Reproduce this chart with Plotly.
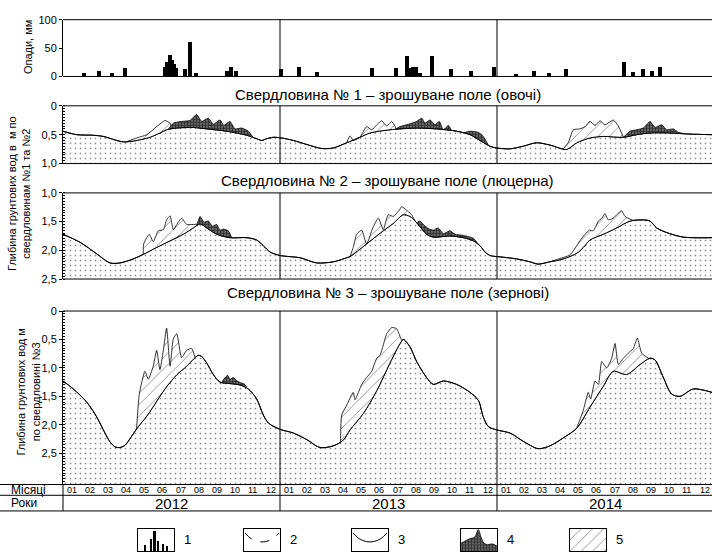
import plotly.graph_objects as go

W, H = 712, 560
FONT = "Arial, Liberation Sans, sans-serif"
XMAX = 35.89  # months shown (Jan 2012 .. end of Dec 2014)

# ---------------- precipitation, mm ----------------
rain_month = [1.18, 2.01, 2.69, 3.45, 5.64, 5.77, 5.92, 6.04, 6.14, 6.25, 6.75, 7.02, 7.34, 9.05, 9.29, 9.55,
              12.06, 13.05, 14.03, 17.09, 18.43, 19.02, 19.19, 19.37, 19.50, 19.74, 20.42, 21.44, 22.56, 23.83,
              25.03, 26.05, 26.89, 27.82, 31.02, 31.54, 32.09, 32.56, 33.01]
rain_mm = [6, 11, 7, 15, 18, 26, 38, 30, 22, 15, 13, 62, 7, 10, 17, 11,
           14, 17, 9, 15, 15, 37, 15, 17, 17, 7, 37, 14, 10, 18,
           5, 10, 7, 14, 26, 8, 14, 10, 18]

# ---------------- well 1 (vegetables), depth m ----------------
w1_x = [0.0, 0.76, 1.68, 2.23, 2.97, 3.34, 3.89, 4.81, 5.36, 5.73, 6.29, 7.2, 7.95, 9.05, 10.16, 10.71,
        10.99, 11.26, 11.63, 12.09, 12.74, 13.48, 14.31, 14.95, 15.69, 16.42, 16.98, 18.08, 19.56, 20.66,
        21.77, 22.51, 23.06, 23.61, 23.98, 24.72, 25.45, 26.19, 26.93, 27.85, 28.41, 29.14, 29.88, 30.99,
        31.73, 32.46, 33.57, 34.67, 35.89]
w1_y = [0.44, 0.50, 0.51, 0.53, 0.60, 0.625, 0.61, 0.545, 0.47, 0.415, 0.385, 0.375, 0.40, 0.44, 0.51, 0.57,
        0.60, 0.57, 0.545, 0.557, 0.60, 0.67, 0.74, 0.73, 0.64, 0.545, 0.47, 0.415, 0.385, 0.40,
        0.44, 0.50, 0.60, 0.70, 0.73, 0.745, 0.70, 0.64, 0.68, 0.755, 0.64, 0.557, 0.53, 0.545,
        0.50, 0.47, 0.47, 0.49, 0.50]
w1_hatch_a_x = [3.52, 4.07, 4.63, 5.18, 5.64, 5.92, 6.01]
w1_hatch_a_y = [0.62, 0.557, 0.50, 0.36, 0.255, 0.30, 0.40]
w1_hatch_b_x = [15.69, 15.87, 16.05, 16.42, 16.79, 17.07, 17.35, 17.62, 17.9, 18.18, 18.45]
w1_hatch_b_y = [0.64, 0.52, 0.60, 0.545, 0.36, 0.415, 0.33, 0.26, 0.35, 0.27, 0.41]
w1_hatch_c_x = [27.67, 27.94, 28.22, 28.59, 28.87, 29.14, 29.42, 29.70, 29.97, 30.43, 30.71, 30.99]
w1_hatch_c_y = [0.74, 0.64, 0.415, 0.40, 0.36, 0.27, 0.34, 0.26, 0.33, 0.245, 0.35, 0.545]
w1_dark_a_x = [5.82, 6.10, 6.56, 7.02, 7.39, 7.67, 8.04, 8.31, 8.68, 8.90, 9.23, 9.51, 9.88, 10.25, 10.52]
w1_dark_a_y = [0.41, 0.30, 0.27, 0.255, 0.15, 0.27, 0.215, 0.32, 0.245, 0.34, 0.27, 0.40, 0.385, 0.44, 0.55]
w1_dark_b_x = [18.36, 18.64, 19.1, 19.56, 19.84, 20.02, 20.3, 20.57, 20.81, 21.03, 21.31, 21.49]
w1_dark_b_y = [0.41, 0.36, 0.32, 0.27, 0.215, 0.30, 0.245, 0.33, 0.27, 0.415, 0.34, 0.43]
w1_dark_c_x = [22.14, 22.51, 22.97, 23.24, 23.52]
w1_dark_c_y = [0.47, 0.44, 0.46, 0.53, 0.68]
w1_dark_d_x = [30.99, 31.36, 31.73, 32.09, 32.46, 32.74, 33.11, 33.38, 33.75, 34.03, 34.30]
w1_dark_d_y = [0.545, 0.44, 0.415, 0.385, 0.27, 0.375, 0.33, 0.415, 0.40, 0.46, 0.48]

# ---------------- well 2 (alfalfa), depth m ----------------
w2_x = [0.0, 0.94, 1.86, 2.6, 3.15, 3.89, 4.44, 5.18, 5.92, 6.65, 7.2, 7.58, 7.95, 8.5, 9.23, 10.16,
        10.71, 11.08, 11.45, 12.0, 13.11, 14.03, 14.95, 15.69, 15.87, 16.42, 16.98, 17.71, 18.27, 18.82,
        19.19, 19.56, 20.11, 20.48, 21.4, 22.14, 22.69, 23.06, 23.34, 23.61, 24.35, 25.09, 25.82, 26.28,
        26.93, 27.67, 28.41, 28.77, 29.14, 29.88, 30.62, 31.36, 32.09, 32.46, 32.83, 33.38, 34.3, 35.89]
w2_y = [1.72, 1.86, 2.06, 2.22, 2.22, 2.15, 2.07, 1.95, 1.835, 1.72, 1.61, 1.54, 1.61, 1.72, 1.78, 1.78,
        1.82, 1.92, 2.03, 2.09, 2.13, 2.22, 2.20, 2.13, 2.11, 1.98, 1.84, 1.66, 1.53, 1.38,
        1.41, 1.52, 1.72, 1.77, 1.75, 1.78, 1.835, 1.92, 2.03, 2.09, 2.12, 2.15, 2.20, 2.24,
        2.20, 2.15, 2.05, 1.95, 1.82, 1.72, 1.61, 1.49, 1.47, 1.49, 1.61, 1.69, 1.77, 1.78]
w2_hatch_a_x = [4.44, 4.46, 4.77, 4.99, 5.27, 5.55, 5.73, 5.92, 6.1, 6.29, 6.56, 6.84, 7.2, 7.58]
w2_hatch_a_y = [2.07, 1.89, 1.72, 1.85, 1.66, 1.64, 1.47, 1.40, 1.64, 1.55, 1.44, 1.55, 1.55, 1.54]
w2_hatch_b_x = [15.87, 16.05, 16.24, 16.52, 16.79, 17.13, 17.44, 17.71, 17.99, 18.27, 18.6, 18.73, 19.0, 19.28, 19.47]
w2_hatch_b_y = [2.11, 1.95, 1.72, 1.65, 1.89, 1.61, 1.44, 1.64, 1.38, 1.41, 1.30, 1.24, 1.30, 1.38, 1.49]
w2_hatch_c_x = [26.93, 27.3, 28.04, 28.59, 28.87, 29.11, 29.33, 29.61, 29.8, 29.97, 30.15, 30.43, 30.62, 30.89, 31.08, 31.54]
w2_hatch_c_y = [2.20, 2.16, 2.08, 1.835, 1.72, 1.65, 1.66, 1.49, 1.44, 1.36, 1.47, 1.44, 1.38, 1.31, 1.41, 1.48]
w2_dark_a_x = [7.39, 7.58, 7.8, 8.04, 8.26, 8.5, 8.68, 8.86, 9.14, 9.33]
w2_dark_a_y = [1.58, 1.41, 1.51, 1.49, 1.58, 1.55, 1.65, 1.63, 1.66, 1.78]
w2_dark_b_x = [19.56, 19.74, 19.93, 20.2, 20.48, 20.75, 21.03, 21.4, 21.68, 22.14, 22.69, 22.97]
w2_dark_b_y = [1.52, 1.49, 1.55, 1.62, 1.65, 1.61, 1.71, 1.66, 1.72, 1.74, 1.79, 1.90]

# ---------------- well 3 (grain), depth m ----------------
w3_x = [0.0, 0.57, 1.31, 1.86, 2.32, 2.6, 2.88, 3.15, 3.43, 3.8, 4.17, 4.63, 4.99, 5.36, 5.73, 6.29,
        6.84, 7.2, 7.48, 7.67, 7.95, 8.31, 8.68, 9.23, 9.79, 10.25, 10.71, 11.08, 11.36, 12.0, 12.74,
        13.48, 14.21, 14.95, 15.5, 15.87, 16.61, 17.35, 18.08, 18.64, 18.82, 19.19, 19.56, 20.11, 20.48,
        21.03, 21.77, 22.51, 22.97, 23.24, 23.52, 23.98, 24.72, 25.45, 26.28, 26.93, 27.67, 28.41, 29.14,
        29.88, 30.43, 31.17, 31.91, 32.46, 32.74, 33.2, 33.66, 34.12, 34.86, 35.89]
w3_y = [1.23, 1.37, 1.60, 1.86, 2.145, 2.30, 2.39, 2.40, 2.36, 2.20, 2.03, 1.85, 1.68, 1.50, 1.33, 1.12,
        0.97, 0.85, 0.78, 0.80, 0.915, 1.115, 1.25, 1.275, 1.30, 1.37, 1.545, 1.83, 1.97, 2.08, 2.145,
        2.26, 2.40, 2.37, 2.27, 2.09, 1.80, 1.40, 0.915, 0.57, 0.50, 0.63, 0.89, 1.17, 1.29,
        1.23, 1.29, 1.43, 1.57, 1.86, 2.03, 2.09, 2.145, 2.29, 2.42, 2.37, 2.23, 2.06, 1.69,
        1.32, 1.06, 1.115, 0.94, 0.83, 0.86, 1.17, 1.46, 1.50, 1.37, 1.43]
w3_hatch_a_x = [4.07, 4.22, 4.53, 4.72, 4.99, 5.18, 5.36, 5.55, 5.73, 5.92, 6.1, 6.29, 6.56, 6.84, 7.12, 7.3]
w3_hatch_a_y = [2.07, 1.46, 1.06, 1.20, 0.97, 0.69, 1.03, 0.69, 0.30, 0.97, 0.49, 0.40, 0.82, 0.69, 0.66, 0.82]
w3_hatch_b_x = [15.35, 15.41, 15.7, 16.05, 16.15, 16.52, 16.79, 17.07, 17.35, 17.53, 17.71, 17.9, 18.18, 18.45, 18.73, 18.82]
w3_hatch_b_y = [2.30, 1.83, 1.65, 1.43, 1.56, 1.29, 1.17, 1.06, 0.83, 0.78, 0.60, 0.40, 0.29, 0.31, 0.51, 0.50]
w3_hatch_c_x = [28.41, 28.77, 29.05, 29.18, 29.42, 29.61, 29.79, 30.07, 30.34, 30.53, 30.71, 30.99,
                31.26, 31.54, 31.76, 32.0, 32.37, 32.55]
w3_hatch_c_y = [2.06, 1.745, 1.43, 1.545, 1.23, 1.29, 0.89, 1.0, 0.83, 0.57, 0.94, 0.83,
                0.74, 0.66, 0.475, 0.74, 0.83, 0.84]
w3_dark_a_x = [8.77, 8.96, 9.11, 9.23, 9.42, 9.64, 9.83, 10.01, 10.16]
w3_dark_a_y = [1.26, 1.17, 1.13, 1.20, 1.17, 1.23, 1.26, 1.28, 1.33]

# ---------------- axis text ----------------
month_labels = ["01", "02", "03", "04", "05", "06", "07", "08", "09", "10", "11", "12"]
years = ["2012", "2013", "2014"]
titles = ["Свердловина № 1 – зрошуване поле (овочі)",
          "Свердловина № 2 – зрошуване поле (люцерна)",
          "Свердловина № 3 – зрошуване поле (зернові)"]
legend_labels = ["1", "2", "3", "4", "5"]

# legend icon data (unit box coordinates)
icon_bar_x = [0.2, 0.36, 0.46, 0.55, 0.7, 0.8]
icon_bar_h = [0.3, 0.55, 0.9, 0.45, 0.35, 0.25]
icon_curve_x = [0.03, 0.2, 0.4, 0.6, 0.8, 0.97]
icon_curve_y = [0.8, 0.55, 0.42, 0.42, 0.55, 0.8]
icon_peak_x = [0.0, 0.12, 0.25, 0.38, 0.48, 0.56, 0.64, 0.74, 0.86, 1.0]
icon_peak_y = [0.35, 0.45, 0.55, 0.62, 0.95, 0.6, 0.35, 0.28, 0.32, 0.22]


def yp(p):
    return 1 - p / H


def xp(p):
    return p / W


DOTS = dict(shape=".", size=5, solidity=0.09, fgcolor="black", bgcolor="white")
HATCH = dict(shape="/", size=8, solidity=0.1, fgcolor="black", bgcolor="white")
DARK = dict(shape="+", size=3, solidity=0.6, fgcolor="black", bgcolor="#6a6a6a")

fig = go.Figure()

# precipitation bars
fig.add_trace(go.Bar(x=rain_month, y=rain_mm, width=0.22, xaxis="x", yaxis="y",
                     marker=dict(color="black", line=dict(width=0)),
                     showlegend=False, hoverinfo="skip"))

wells = [
    dict(ax="y2", bottom=1.0, bx=w1_x, by=w1_y,
         hatch=[(w1_hatch_a_x, w1_hatch_a_y), (w1_hatch_b_x, w1_hatch_b_y), (w1_hatch_c_x, w1_hatch_c_y)],
         dark=[(w1_dark_a_x, w1_dark_a_y), (w1_dark_b_x, w1_dark_b_y),
               (w1_dark_c_x, w1_dark_c_y), (w1_dark_d_x, w1_dark_d_y)]),
    dict(ax="y3", bottom=2.5, bx=w2_x, by=w2_y,
         hatch=[(w2_hatch_a_x, w2_hatch_a_y), (w2_hatch_b_x, w2_hatch_b_y), (w2_hatch_c_x, w2_hatch_c_y)],
         dark=[(w2_dark_a_x, w2_dark_a_y), (w2_dark_b_x, w2_dark_b_y)]),
    dict(ax="y4", bottom=3.05, bx=w3_x, by=w3_y,
         hatch=[(w3_hatch_a_x, w3_hatch_a_y), (w3_hatch_b_x, w3_hatch_b_y), (w3_hatch_c_x, w3_hatch_c_y)],
         dark=[(w3_dark_a_x, w3_dark_a_y)]),
]


def band(ax, xs, ys, bx, by, pattern):
    """Patterned area between a raised water-table curve and the base curve."""
    x0, x1 = xs[0], xs[-1]
    lx = [x0] + [x for x in bx if x0 < x < x1] + [x1]
    ly = [ys[0]] + [y for x, y in zip(bx, by) if x0 < x < x1] + [ys[-1]]
    fig.add_trace(go.Scatter(x=lx, y=ly, xaxis="x", yaxis=ax, mode="lines",
                             line=dict(width=0, shape="spline", smoothing=0.8),
                             showlegend=False, hoverinfo="skip"))
    fig.add_trace(go.Scatter(x=xs, y=ys, xaxis="x", yaxis=ax, mode="lines",
                             line=dict(color="black", width=0.8, shape="spline", smoothing=0.5),
                             fill="tonexty", fillpattern=pattern,
                             showlegend=False, hoverinfo="skip"))


for w in wells:
    # dotted body below the base curve
    fig.add_trace(go.Scatter(x=[0, XMAX], y=[w["bottom"], w["bottom"]], xaxis="x", yaxis=w["ax"],
                             mode="lines", line=dict(width=0), showlegend=False, hoverinfo="skip"))
    fig.add_trace(go.Scatter(x=w["bx"], y=w["by"], xaxis="x", yaxis=w["ax"], mode="lines",
                             line=dict(color="black", width=1, shape="spline", smoothing=0.8),
                             fill="tonexty", fillpattern=DOTS,
                             showlegend=False, hoverinfo="skip"))
    for xs, ys in w["hatch"]:
        band(w["ax"], xs, ys, w["bx"], w["by"], HATCH)
    for xs, ys in w["dark"]:
        band(w["ax"], xs, ys, w["bx"], w["by"], DARK)
    fig.add_trace(go.Scatter(x=w["bx"], y=w["by"], xaxis="x", yaxis=w["ax"], mode="lines",
                             line=dict(color="black", width=1, shape="spline", smoothing=0.8),
                             showlegend=False, hoverinfo="skip"))

# ---------------- legend icons, each in its own small box ----------------
box_left = [138, 244, 352, 461, 570]
box_w = 36
box_top, box_bot = 534, 557
for i in range(5):
    xa = "x%d" % (i + 2)
    ya = "y%d" % (i + 5)
    if i == 0:
        fig.add_trace(go.Bar(x=icon_bar_x, y=icon_bar_h, width=0.07, xaxis=xa, yaxis=ya,
                             marker=dict(color="black", line=dict(width=0)),
                             showlegend=False, hoverinfo="skip"))
    elif i in (1, 2):
        fig.add_trace(go.Scatter(x=icon_curve_x, y=icon_curve_y, xaxis=xa, yaxis=ya, mode="lines",
                                 line=dict(color="black", width=1, shape="spline",
                                           dash="dash" if i == 1 else "solid"),
                                 showlegend=False, hoverinfo="skip"))
    elif i == 3:
        fig.add_trace(go.Scatter(x=icon_peak_x, y=icon_peak_y, xaxis=xa, yaxis=ya, mode="lines",
                                 line=dict(color="black", width=0.8, shape="spline"),
                                 fill="tozeroy", fillpattern=DARK,
                                 showlegend=False, hoverinfo="skip"))
    else:
        fig.add_trace(go.Scatter(x=[0, 1], y=[1, 1], xaxis=xa, yaxis=ya, mode="lines",
                                 line=dict(width=0), fill="tozeroy", fillpattern=HATCH,
                                 showlegend=False, hoverinfo="skip"))

# ---------------- layout ----------------
axis_common = dict(showline=True, linecolor="black", linewidth=1, ticks="outside", ticklen=3,
                   tickcolor="black", tickfont=dict(family=FONT, size=11, color="black"),
                   showgrid=False, zeroline=False, anchor="x", fixedrange=True)

layout = dict(
    width=W, height=H, margin=dict(l=0, r=0, t=0, b=0),
    paper_bgcolor="white", plot_bgcolor="rgba(0,0,0,0)",
    font=dict(family=FONT, color="black"),
    showlegend=False, bargap=0,
    xaxis=dict(domain=[xp(63), 1.0], range=[0, XMAX], visible=False, fixedrange=True),
    yaxis=dict(domain=[yp(72), yp(14)], range=[0, 100], tickvals=[0, 50, 100],
               ticktext=["0", "50", "100"], **axis_common),
    yaxis2=dict(domain=[yp(161), yp(102)], range=[1.0, 0], tickvals=[0, 0.5, 1.0],
                ticktext=["0", "0,5", "1,0"],
                minor=dict(ticks="inside", ticklen=2, dtick=0.05, tickcolor="black"), **axis_common),
    yaxis3=dict(domain=[yp(279), yp(191)], range=[2.5, 1.0], tickvals=[1.0, 1.5, 2.0, 2.5],
                ticktext=["1,0", "1,5", "2,0", "2,5"],
                minor=dict(ticks="inside", ticklen=2, dtick=0.05, tickcolor="black"), **axis_common),
    yaxis4=dict(domain=[yp(489), yp(311.7)], range=[3.05, 0], tickvals=[0, 0.5, 1.0, 1.5, 2.0, 2.5],
                ticktext=["0", "0,5", "1,0", "1,5", "2,0", "2,5"],
                minor=dict(ticks="inside", ticklen=2, dtick=0.05, tickcolor="black"), **axis_common),
)
for i in range(5):
    layout["xaxis%d" % (i + 2)] = dict(domain=[xp(box_left[i]), xp(box_left[i] + box_w)], range=[0, 1],
                                       showline=True, mirror=True, linecolor="black", linewidth=1,
                                       showticklabels=False, ticks="", showgrid=False, zeroline=False,
                                       anchor="y%d" % (i + 5), fixedrange=True)
    layout["yaxis%d" % (i + 5)] = dict(domain=[yp(box_bot), yp(box_top)], range=[0, 1],
                                       showline=True, mirror=True, linecolor="black", linewidth=1,
                                       showticklabels=False, ticks="", showgrid=False, zeroline=False,
                                       anchor="x%d" % (i + 2), fixedrange=True)
fig.update_layout(**layout)

LINE = dict(color="black", width=1)
shapes = []
# panel frames (top / bottom edges) and year dividers
for ax in ["y", "y2", "y3", "y4"]:
    for yy in (0, 1):
        shapes.append(dict(type="line", xref="x domain", yref=ax + " domain",
                           x0=0, x1=1, y0=yy, y1=yy, line=LINE))
    for m in (12, 24):
        shapes.append(dict(type="line", xref="x", yref=ax + " domain",
                           x0=m, x1=m, y0=0, y1=1, line=LINE))
# months / years table
for yy in (489, 500, 516):
    shapes.append(dict(type="line", xref="paper", yref="paper", x0=0, x1=1,
                       y0=yp(yy), y1=yp(yy), line=LINE))
shapes.append(dict(type="line", xref="paper", yref="paper", x0=xp(63), x1=xp(63),
                   y0=yp(516), y1=yp(489), line=LINE))
for m in (12, 24):
    shapes.append(dict(type="line", xref="x", yref="paper", x0=m, x1=m,
                       y0=yp(516), y1=yp(489), line=LINE))
fig.update_layout(shapes=shapes)

ann = []
for t, yy in zip(titles, (90, 178, 293)):
    ann.append(dict(text=t, xref="x domain", yref="paper", x=0.5, y=yp(yy), showarrow=False,
                    font=dict(size=15, family=FONT), xanchor="center", yanchor="middle"))
ann.append(dict(text="Опади, мм", xref="paper", yref="paper", x=xp(28), y=yp(42), textangle=-90,
                showarrow=False, font=dict(size=11, family=FONT), xanchor="center", yanchor="middle"))
ann.append(dict(text="Глибина грунтових вод в  м по<br>свердловинам №1 та №2", xref="paper", yref="paper",
                x=xp(19), y=yp(192), textangle=-90, showarrow=False,
                font=dict(size=11, family=FONT), xanchor="center", yanchor="middle"))
ann.append(dict(text="Глибина грунтових вод м<br>по свердловині №3", xref="paper", yref="paper",
                x=xp(28), y=yp(395), textangle=-90, showarrow=False,
                font=dict(size=11, family=FONT), xanchor="center", yanchor="middle"))
ann.append(dict(text="Місяці", xref="paper", yref="paper", x=xp(9), y=yp(494.5), showarrow=False,
                font=dict(size=12, family=FONT), xanchor="left", yanchor="middle"))
ann.append(dict(text="Роки", xref="paper", yref="paper", x=xp(9), y=yp(508), showarrow=False,
                font=dict(size=12, family=FONT), xanchor="left", yanchor="middle"))
for k in range(36):
    ann.append(dict(text=month_labels[k % 12], xref="x", yref="paper", x=k + 0.5, y=yp(494.5),
                    showarrow=False, font=dict(size=9, family=FONT), xanchor="center", yanchor="middle"))
for k, yr in enumerate(years):
    ann.append(dict(text=yr, xref="x", yref="paper", x=12 * k + 6, y=yp(508), showarrow=False,
                    font=dict(size=15, family=FONT), xanchor="center", yanchor="middle"))
for i, lab in enumerate(legend_labels):
    ann.append(dict(text=lab, xref="paper", yref="paper", x=xp(box_left[i] + box_w + 8),
                    y=yp((box_top + box_bot) / 2), showarrow=False,
                    font=dict(size=13, family=FONT), xanchor="left", yanchor="middle"))
fig.update_layout(annotations=ann)

fig.write_html("out.html")
